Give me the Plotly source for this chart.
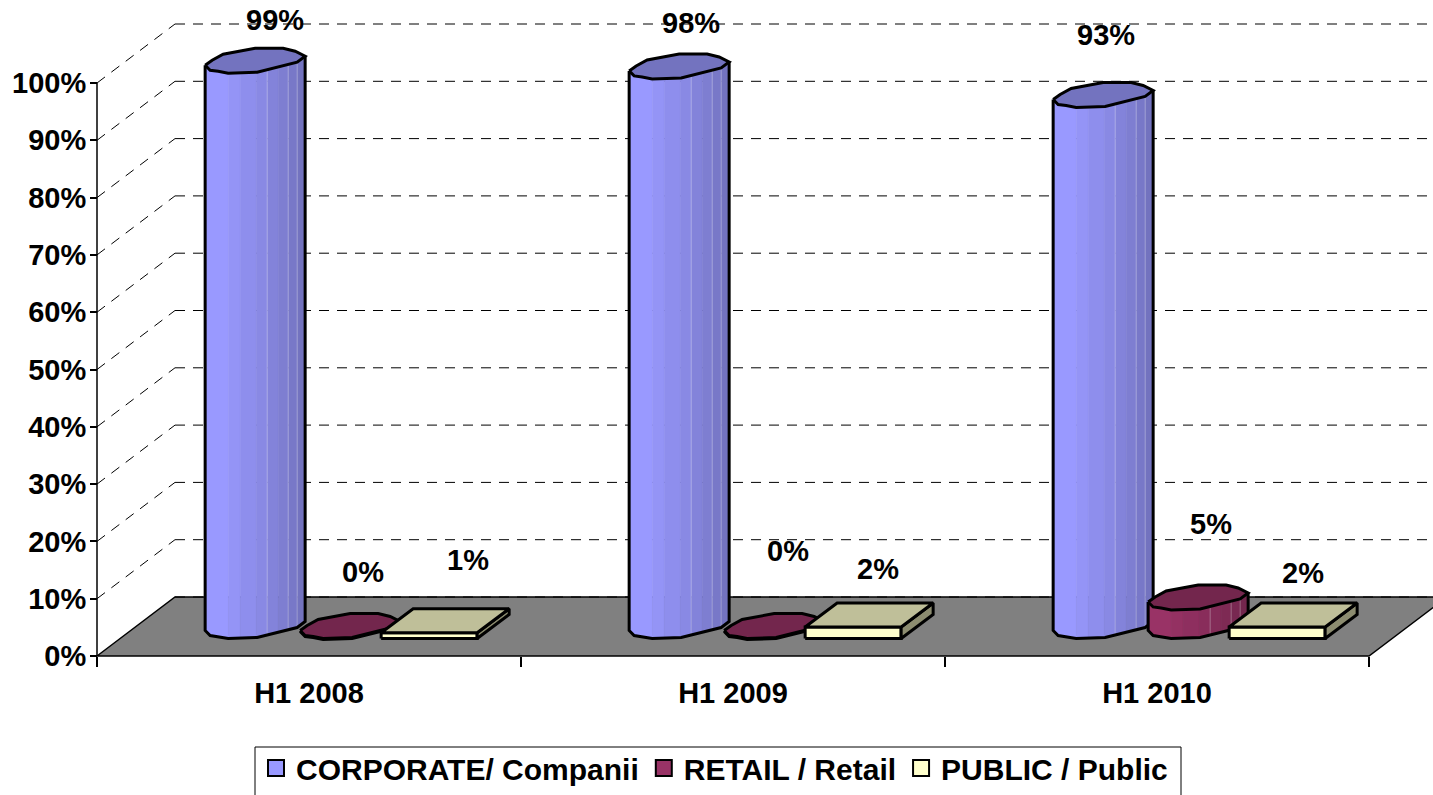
import numpy as np
import plotly.graph_objects as go

periods = ["H1 2008", "H1 2009", "H1 2010"]
corporate = [99, 98, 93]
retail = [0, 0, 5]
public = [1, 2, 2]
series_names = ["CORPORATE/ Companii", "RETAIL / Retail", "PUBLIC / Public"]
y_ticks = list(range(0, 101, 10))

# ---- style / projection constants (pixels per unit of the axes) ----
# The legend frame runs off the bottom of the window in the source, so the
# figure is a little taller than the 795 px window and the page clips it.
W, H = 1433, 840
PX_X, PX_Y = 424.0, 5.73
X0_PX, Y0_PX = 97, 656
DEPTH_X, DEPTH_Y = 78, 59
FONT = "Liberation Sans"
FS = 29
def ux(p): return p / PX_X
def uy(p): return p / PX_Y

BAR_START = 0.373       # first bar centre inside a category
BAR_STEP = 95           # px between series
BASE_LIFT = 29.5        # px from front floor edge to bar centre line
BAR_SCALE = 0.9965      # source bars are very slightly shorter than the wall scale
C_LW = 3

TOP_OUT = [(-50, 4), (-43, -1), (-32, -7), (0, -13), (28, -13), (40, -10), (50, -5),
           (42, 1), (2, 11), (-27, 12), (-37, 10), (-45, 9)]
LOW = [(-50, 4), (-45, 9), (-37, 10), (-27, 12), (2, 11), (42, 1), (50, -5)]
BAND_EDGES = [-50, -27, -15, 1, 12, 23, 33, 42, 50]
LIGHT_EDGES = [12, 33, 42]

fig = go.Figure()

def poly(xs, ys, fill=None, line=None, lw=0, dash=None):
    kw = dict(x=xs, y=ys, mode="lines", hoverinfo="skip", showlegend=False)
    kw["line"] = dict(color=line or "rgba(0,0,0,0)", width=lw, dash=dash)
    if fill:
        kw["fill"] = "toself"
        kw["fillcolor"] = fill
    fig.add_trace(go.Scatter(**kw))

def lerp(a, b, t):
    return "rgb(%d,%d,%d)" % tuple(round(a[i] + (b[i] - a[i]) * t) for i in range(3))

def cylinder(cx, value, c_left, c_right, c_top):
    base_y = uy(BASE_LIFT)
    top_y = base_y + value * BAR_SCALE
    lu = [p[0] for p in LOW]
    lv = [p[1] for p in LOW]
    if value > 0:
        for i in range(len(BAND_EDGES) - 1):
            a, b = BAND_EDGES[i], BAND_EDGES[i + 1]
            us = [u for u in lu if a < u < b]
            seq = [a] + us + [b]
            vs = np.interp(seq, lu, lv)
            xs = [cx + ux(u) for u in seq]
            bottom = [base_y - uy(v) for v in vs]
            top = [top_y - uy(v) for v in vs]
            col = lerp(c_left, c_right, i / (len(BAND_EDGES) - 2))
            poly(xs + xs[::-1] + [xs[0]], bottom + top[::-1] + [bottom[0]],
                 fill=col, line=col, lw=0.5)
        for u in LIGHT_EDGES:
            v = float(np.interp(u, lu, lv))
            poly([cx + ux(u)] * 2, [base_y - uy(v), top_y - uy(v)],
                 line="rgba(255,255,255,0.3)", lw=1)
        bx = [cx + ux(u) for u in lu]
        by = [base_y - uy(v) for v in lv]
        poly([bx[0], *bx, bx[-1]], [top_y - uy(lv[0]), *by, top_y - uy(lv[-1])],
             line="black", lw=C_LW)
    else:
        bx = [cx + ux(u) for u in lu]
        by = [base_y - uy(v + 1) for v in lv]
        poly(bx, by, line="black", lw=C_LW)
    tx = [cx + ux(p[0]) for p in TOP_OUT] + [cx + ux(TOP_OUT[0][0])]
    ty = [top_y - uy(p[1]) for p in TOP_OUT] + [top_y - uy(TOP_OUT[0][1])]
    poly(tx, ty, fill=c_top, line="black", lw=C_LW)

def box(cx, value):
    hw, dx, dy = 48, 16, 12
    base_y = uy(BASE_LIFT)
    fb, ft = base_y - uy(dy), base_y - uy(dy) + value
    l, r = cx - ux(hw + dx), cx + ux(hw - dx)
    sx, sy = ux(2 * dx), uy(2 * dy)
    poly([l, r, r, l, l], [fb, fb, ft, ft, fb], fill="#FFFFCC", line="black", lw=C_LW)
    poly([r, r + sx, r + sx, r, r], [fb, fb + sy, ft + sy, ft, fb], fill="#8C8C70", line="black", lw=C_LW)
    poly([l, r, r + sx, l + sx, l], [ft, ft, ft + sy, ft + sy, ft], fill="#BFBF99", line="black", lw=C_LW)

# --- back wall grid ---
dx3, dy3 = ux(DEPTH_X), uy(DEPTH_Y)
cats = len(periods)
gx, gy, wx, wy = [], [], [], []
for t in y_ticks:
    gx += [dx3, cats + dx3, None]
    gy += [t + dy3, t + dy3, None]
    if t:
        wx += [0, dx3, None]
        wy += [t, t + dy3, None]
poly(wx, wy, line="black", lw=1, dash="10px,8px")
# --- floor ---
poly([0, cats, cats + dx3, dx3, 0], [0, 0, dy3, dy3, 0], fill="#808080", line="black", lw=1.5)
poly(gx, gy, line="black", lw=1, dash="10px,8px")
# --- axis line ---
poly([0, 0], [0, 100], line="black", lw=1.5)

# --- bars ---
step = ux(BAR_STEP)
for i in range(cats):
    x0 = i + BAR_START
    cylinder(x0, corporate[i], (153, 153, 255), (115, 115, 191), "#7373BF")
    cylinder(x0 + step, retail[i], (153, 51, 102), (115, 38, 77), "#73264D")
    box(x0 + 2 * step, public[i])

# --- legend proxies ---
for name, col in zip(series_names, ["#9999FF", "#993366", "#FFFFCC"]):
    fig.add_trace(go.Scatter(x=[None], y=[None], mode="markers", name=name,
                             marker=dict(symbol="square", size=16, color=col,
                                         line=dict(color="black", width=2))))

# --- data labels (placed by hand in the source chart, px shifts from bar top) ---
LABEL_SHIFT = {
    0: [(20, 39), (12, 42), (3, 59)],
    1: [(13, 55), (14, 76), (13, 74)],
    2: [(23, 61), (9, 46), (10, 42)],
}
annotations = []
for s, vals in enumerate([corporate, retail, public]):
    for i, v in enumerate(vals):
        sx, sy = LABEL_SHIFT[s][i]
        annotations.append(dict(
            x=i + BAR_START + s * step, y=uy(BASE_LIFT) + v, text=f"{v}%", showarrow=False,
            xshift=sx, yshift=sy, font=dict(family=FONT, size=FS, color="black", weight=700)))

fig.update_layout(
    width=W, height=H, margin=dict(l=0, r=0, t=0, b=0),
    paper_bgcolor="white", plot_bgcolor="white",
    annotations=annotations,
    shapes=[dict(type="rect", xref="paper", yref="paper", x0=255 / W, x1=1181 / W,
                 y0=1 - 830 / H, y1=1 - 747 / H, line=dict(color="black", width=1),
                 fillcolor="white", layer="above")],
    showlegend=True,
    legend=dict(orientation="h", x=256 / W, y=1 - 742 / H, xanchor="left", yanchor="top",
                bgcolor="rgba(0,0,0,0)", borderwidth=0,
                font=dict(family=FONT, size=30, color="black", weight=700),
                itemsizing="trace", itemwidth=30),
    xaxis=dict(range=[-X0_PX / PX_X, (W - X0_PX) / PX_X], showgrid=False, zeroline=False,
               showline=False, anchor="free", position=1 - Y0_PX / H,
               tickmode="array", tickvals=[i + 0.5 for i in range(cats)], ticktext=periods,
               ticks="", ticklabelstandoff=17,
               tickfont=dict(family=FONT, size=FS, color="black", weight=700),
               minor=dict(tickmode="array", tickvals=list(range(cats + 1)), ticks="outside",
                          ticklen=10, tickcolor="black", tickwidth=1.5, showgrid=False)),
    yaxis=dict(range=[(Y0_PX - H) / PX_Y, Y0_PX / PX_Y], showgrid=False, zeroline=False,
               showline=False, anchor="free", position=X0_PX / W,
               tickmode="array", tickvals=y_ticks, ticktext=[f"{t}%" for t in y_ticks],
               ticks="outside", ticklen=7, tickcolor="black", tickwidth=1.5, ticklabelstandoff=-2,
               tickfont=dict(family=FONT, size=FS, color="black", weight=700)),
)
fig.write_html("out.html", config={"displayModeBar": False},
               post_script="document.body.style.margin='0';document.body.style.overflow='hidden';"
                           "document.documentElement.style.overflow='hidden';")
